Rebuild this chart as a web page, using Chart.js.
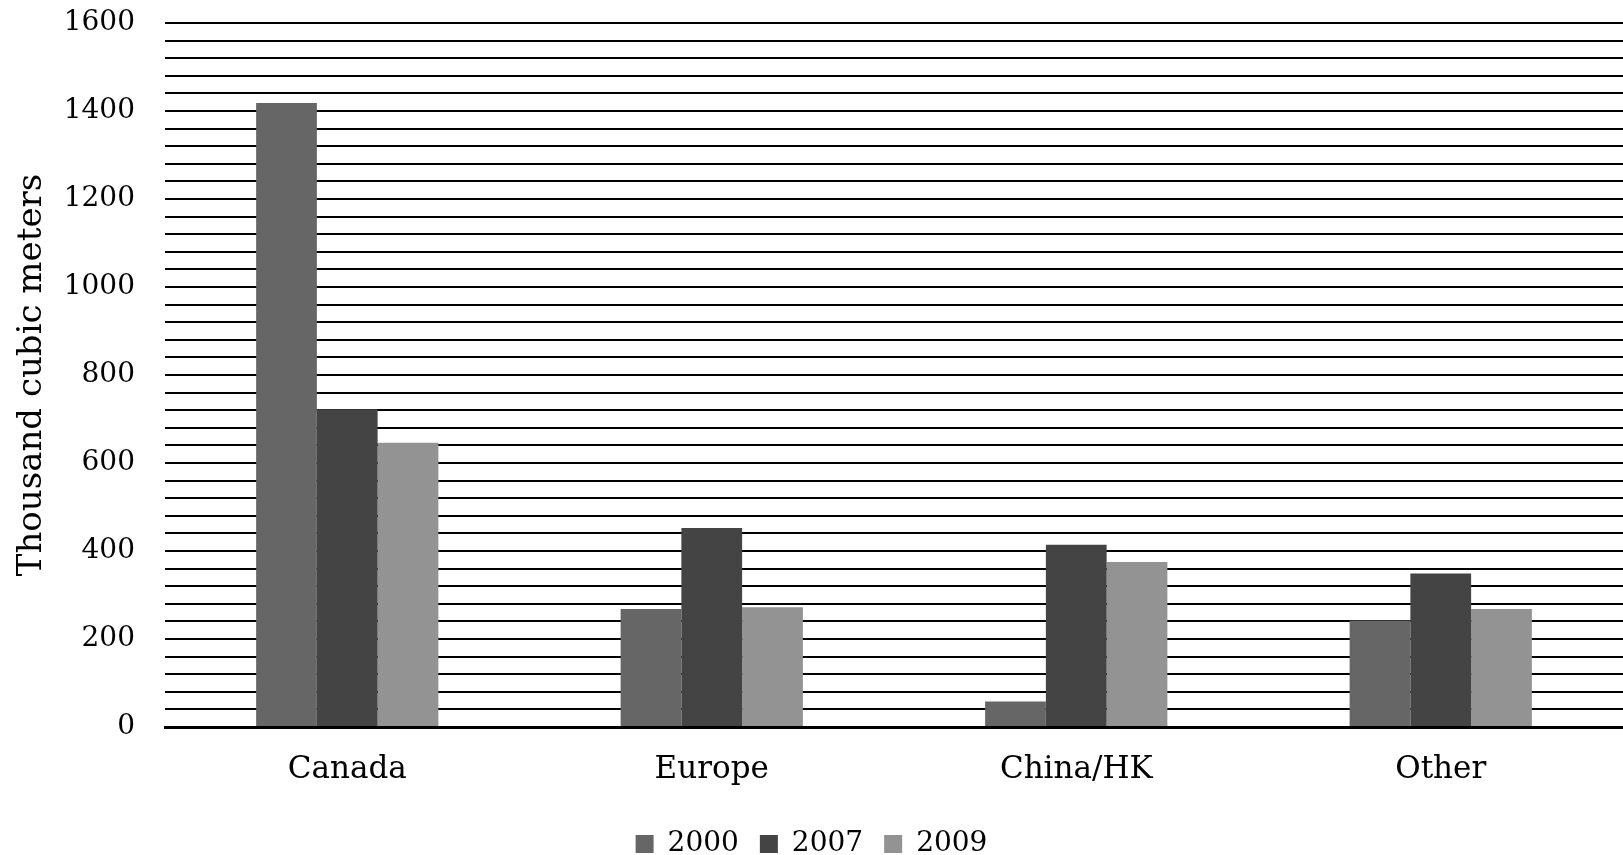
<!DOCTYPE html>
<html>
<head>
<meta charset="utf-8">
<script src="https://cdn.jsdelivr.net/npm/chart.js@4"></script>
<style>
  html, body { margin: 0; padding: 0; background: #fff; }
  #wrap { width: 1623px; height: 855px; }
</style>
</head>
<body>
<div id="wrap"><canvas id="exportChart" width="1623" height="855"></canvas></div>
<script>
// ------------------ DATA ------------------
const regions = ["Canada", "Europe", "China/HK", "Other"];
const years = ["2000", "2007", "2009"];
const values2000 = [1418, 268, 58, 242];
const values2007 = [722, 452, 414, 349];
const values2009 = [646, 272, 375, 268];
const yTickLabels = [0, 200, 400, 600, 800, 1000, 1200, 1400, 1600];
const barColors = ["#666666", "#444444", "#939393"];

const serif = "'DejaVu Serif', serif";

// ------------------ CHART ------------------
const ctx = document.getElementById("exportChart").getContext("2d");
new Chart(ctx, {
  type: "bar",
  data: {
    labels: regions,
    datasets: [
      { label: years[0], data: values2000, backgroundColor: barColors[0] },
      { label: years[1], data: values2007, backgroundColor: barColors[1] },
      { label: years[2], data: values2009, backgroundColor: barColors[2] },
    ],
  },
  options: {
    responsive: false,
    animation: false,
    layout: { padding: { top: 23, right: 0, bottom: 0 } },
    datasets: { bar: { categoryPercentage: 0.5, barPercentage: 1.0 } },
    plugins: {
      tooltip: { enabled: false },
      legend: {
        position: "bottom",
        maxHeight: 46,
        labels: {
          boxWidth: 18,
          boxHeight: 18,
          padding: 21,
          color: "#000",
          font: { family: serif, size: 28 },
        },
      },
    },
    scales: {
      x: {
        afterFit: scale => { scale.height = 82; },
        grid: { display: false, drawTicks: false },
        border: { color: "#000", width: 3 },
        ticks: { color: "#000", padding: 24, font: { family: serif, size: 31 } },
      },
      y: {
        min: 0,
        max: 1600,
        afterFit: scale => {
          scale.width = 165;
          scale.paddingTop = 0;
        },
        grid: { color: "#000", lineWidth: 2, drawTicks: false },
        border: { display: false },
        ticks: {
          stepSize: 40,
          autoSkip: false,
          padding: 30,
          color: "#000",
          font: { family: serif, size: 28 },
          callback: v => (yTickLabels.includes(v) ? String(v) : ""),
        },
        title: {
          display: true,
          text: "Thousand cubic meters",
          color: "#000",
          padding: { top: 12, bottom: 0 },
          font: { family: serif, size: 34 },
        },
      },
    },
  },
});
</script>
</body>
</html>
